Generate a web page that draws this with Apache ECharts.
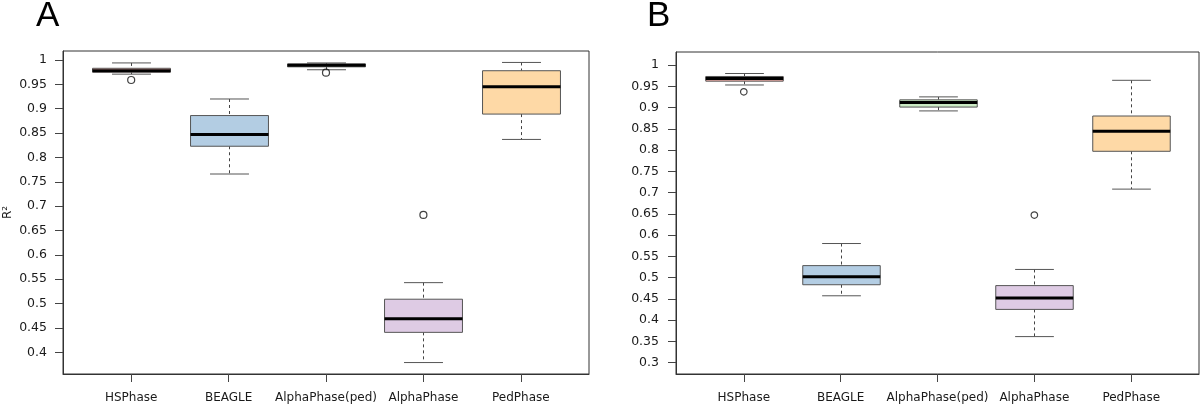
<!DOCTYPE html>
<html>
<head>
<meta charset="utf-8">
<script src="https://cdn.jsdelivr.net/npm/echarts@6/dist/echarts.min.js"></script>
<style>
html,body{margin:0;padding:0;background:#fff;}
#main{width:1200px;height:406px;}
</style>
</head>
<body>
<div id="main"></div>
<script>
// ---- data ----
var categories = ['HSPhase', 'BEAGLE', 'AlphaPhase(ped)', 'AlphaPhase', 'PedPhase'];
var boxColors = ['#FBB4AE', '#B3CDE3', '#CCEBC5', '#DECBE4', '#FED9A6'];

// Panel A
var lowerA  = [0.971, 0.766, 0.980, 0.379, 0.837];
var q1A     = [0.975, 0.823, 0.986, 0.441, 0.889];
var medianA = [0.978, 0.847, 0.989, 0.469, 0.945];
var q3A     = [0.983, 0.886, 0.992, 0.509, 0.978];
var upperA  = [0.994, 0.920, 0.994, 0.543, 0.995];
var outliersA = [[1, 0.959], [3, 0.974], [4, 0.682]];
var yTicksA = [0.4, 0.45, 0.5, 0.55, 0.6, 0.65, 0.7, 0.75, 0.8, 0.85, 0.9, 0.95, 1];

// Panel B
var lowerB  = [0.953, 0.457, 0.892, 0.361, 0.708];
var q1B     = [0.962, 0.483, 0.901, 0.425, 0.797];
var medianB = [0.968, 0.502, 0.912, 0.452, 0.844];
var q3B     = [0.973, 0.528, 0.918, 0.481, 0.880];
var upperB  = [0.980, 0.580, 0.925, 0.519, 0.964];
var outliersB = [[1, 0.937], [4, 0.647]];
var yTicksB = [0.3, 0.35, 0.4, 0.45, 0.5, 0.55, 0.6, 0.65, 0.7, 0.75, 0.8, 0.85, 0.9, 0.95, 1];

var xPositions = [1, 2, 3, 4, 5];

// ---- build ----
function makeBoxData(lo, q1, md, q3, hi) {
  return categories.map(function (c, i) {
    return [xPositions[i], lo[i], q1[i], md[i], q3[i], hi[i]];
  });
}

function renderBox(params, api) {
  var x = api.value(0);
  var lo = api.value(1), q1 = api.value(2), md = api.value(3), q3 = api.value(4), hi = api.value(5);
  var w = api.size([0.8, 0])[0];
  var hw = w / 2, cw = w / 4;
  var pLo = api.coord([x, lo]), pQ1 = api.coord([x, q1]), pMd = api.coord([x, md]);
  var pQ3 = api.coord([x, q3]), pHi = api.coord([x, hi]);
  var cx = Math.round(pLo[0]) + 0.5;
  var color = boxColors[params.dataIndex];
  var dash = {stroke: '#444', lineWidth: 1, lineDash: [3, 3]};
  var solid = {stroke: '#555', lineWidth: 1};
  return {
    type: 'group',
    children: [
      {type: 'line', shape: {x1: cx, y1: pHi[1], x2: cx, y2: pQ3[1]}, style: dash},
      {type: 'line', shape: {x1: cx, y1: pQ1[1], x2: cx, y2: pLo[1]}, style: dash},
      {type: 'line', shape: {x1: cx - cw, y1: pHi[1], x2: cx + cw, y2: pHi[1]}, style: solid},
      {type: 'line', shape: {x1: cx - cw, y1: pLo[1], x2: cx + cw, y2: pLo[1]}, style: solid},
      {type: 'rect', shape: {x: cx - hw, y: pQ3[1], width: w, height: pQ1[1] - pQ3[1]},
        style: {fill: color, stroke: '#555', lineWidth: 1}},
      {type: 'line', shape: {x1: cx - hw, y1: pMd[1], x2: cx + hw, y2: pMd[1]},
        style: {stroke: '#000', lineWidth: 3}}
    ]
  };
}

var fontFam = 'DejaVu Sans';

function xAxisDef(gridIndex) {
  return {
    type: 'value', gridIndex: gridIndex, min: 0.3, max: 5.7,
    axisLine: {show: true, lineStyle: {color: '#333', width: 1}},
    axisTick: {show: true, length: 8, customValues: xPositions, lineStyle: {color: '#444'}},
    axisLabel: {
      customValues: xPositions, margin: 18, color: '#1a1a1a', fontSize: 12, fontFamily: fontFam,
      formatter: function (v) { return categories[Math.round(v) - 1] || ''; }
    },
    splitLine: {show: false}
  };
}

function yAxisDef(gridIndex, min, max, ticks, margin, name) {
  return {
    type: 'value', gridIndex: gridIndex, min: min, max: max,
    name: name || '', nameLocation: 'middle', nameGap: 49,
    nameTextStyle: {color: '#1a1a1a', fontSize: 12, fontFamily: fontFam},
    axisLine: {show: true, lineStyle: {color: '#333', width: 1}},
    axisTick: {show: true, length: 8, customValues: ticks, lineStyle: {color: '#444'}},
    axisLabel: {
      customValues: ticks, margin: margin, color: '#1a1a1a', fontSize: 12.5, fontFamily: fontFam,
      formatter: function (v) { return String(+v.toFixed(2)); }
    },
    splitLine: {show: false}
  };
}

function outlierSeries(idx, data, size) {
  return {
    type: 'scatter', xAxisIndex: idx, yAxisIndex: idx, data: data,
    symbol: 'circle', symbolSize: size, silent: true,
    itemStyle: {color: 'rgba(0,0,0,0)', borderColor: '#111', borderWidth: 1.2},
    z: 5
  };
}

var option = {
  animation: false,
  backgroundColor: '#fff',
  grid: [
    {left: 63, right: 611, top: 51, bottom: 32, show: true, borderColor: '#333', borderWidth: 1, containLabel: false},
    {left: 676, right: 1, top: 52, bottom: 32, show: true, borderColor: '#333', borderWidth: 1, containLabel: false}
  ],
  xAxis: [xAxisDef(0), xAxisDef(1)],
  yAxis: [
    yAxisDef(0, 0.3555, 1.0185, yTicksA, 16, 'R\u00B2'),
    yAxisDef(1, 0.273, 1.0306, yTicksB, 17, '')
  ],
  graphic: [
    {type: 'text', left: 36, top: -1, style: {text: 'A', fontSize: 35, fontFamily: 'Liberation Sans', fill: '#000'}},
    {type: 'text', left: 647, top: -1, style: {text: 'B', fontSize: 35, fontFamily: 'Liberation Sans', fill: '#000'}}
  ],
  series: [
    {type: 'custom', xAxisIndex: 0, yAxisIndex: 0, renderItem: renderBox,
      encode: {x: 0, y: [1, 2, 3, 4, 5]}, data: makeBoxData(lowerA, q1A, medianA, q3A, upperA), z: 3},
    {type: 'custom', xAxisIndex: 1, yAxisIndex: 1, renderItem: renderBox,
      encode: {x: 0, y: [1, 2, 3, 4, 5]}, data: makeBoxData(lowerB, q1B, medianB, q3B, upperB), z: 3},
    outlierSeries(0, outliersA, 7),
    outlierSeries(1, outliersB, 6.5)
  ]
};

var chart = echarts.init(document.getElementById('main'));
chart.setOption(option);
</script>
</body>
</html>
